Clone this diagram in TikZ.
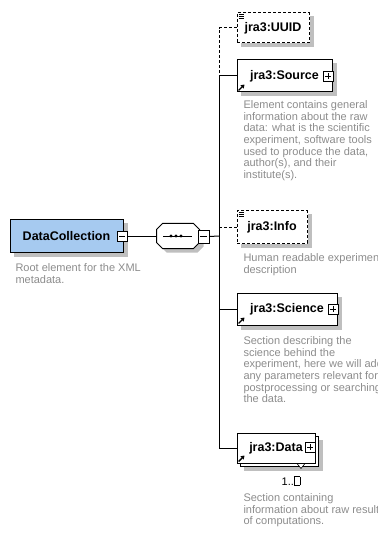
\documentclass[tikz,border=0pt]{standalone}
\usepackage{fontspec}
\setmainfont{Liberation Sans}
\usepackage{tikz}
\usetikzlibrary{shapes,arrows.meta,positioning}

\definecolor{rootblue}{RGB}{166,202,240}
\definecolor{descgray}{RGB}{140,140,140}

\newcommand{\seqoutline}[2]{([shift={(6pt+#1,#2)}]seq.north west) -- ([shift={(-6pt+#1,#2)}]seq.north east)
  -- ([shift={(#1,-6pt+#2)}]seq.north east) -- ([shift={(#1,6pt+#2)}]seq.south east)
  -- ([shift={(-6pt+#1,#2)}]seq.south east) -- ([shift={(6pt+#1,#2)}]seq.south west)
  -- ([shift={(#1,6pt+#2)}]seq.south west) -- ([shift={(#1,-6pt+#2)}]seq.north west) -- cycle}

\tikzset{
  shade gray/.style={fill=gray!50, draw=none},
  elembox/.style={draw, rectangle, fill=white, line width=1pt, minimum height=32pt, inner sep=0pt, font=\fontsize{12.5}{14}\selectfont\bfseries},
  optline/.style={dash pattern=on 3pt off 2pt},
  optelem/.style={elembox, optline},
  pmbox/.style={draw, rectangle, fill=white, line width=0.8pt, minimum size=10pt, inner sep=0pt},
  plusbox/.style={pmbox, path picture={\draw[line width=0.8pt] ([xshift=2pt]path picture bounding box.west) -- ([xshift=-2pt]path picture bounding box.east) ([yshift=-2pt]path picture bounding box.north) -- ([yshift=2pt]path picture bounding box.south);}},
  minusbox/.style={pmbox, path picture={\draw[line width=0.8pt] ([xshift=2pt]path picture bounding box.west) -- ([xshift=-2pt]path picture bounding box.east);}},
  desc/.style={anchor=north west, inner sep=0pt, align=left, text=descgray, font=\fontsize{11}{11.7}\selectfont},
}

\begin{document}
\begin{tikzpicture}[x=1pt, y=-1pt, line width=1pt]
\useasboundingbox (0,0) rectangle (377,534);

\node[elembox, fill=rootblue, minimum width=113pt] (root) at (66.5,236) {DataCollection\hspace{4pt}};
\node[desc] (rootdesc) at (15,263) {Root element for the XML\\metadata.};

\node[minimum width=42pt, minimum height=24pt, inner sep=0pt] (seq) at (178,236) {};
\fill[shade gray, even odd rule] \seqoutline{4pt}{-4pt} \seqoutline{0pt}{0pt};
\draw[fill=white] \seqoutline{0pt}{0pt};
\draw ([xshift=-15pt]seq.center) -- ([xshift=14pt]seq.center);
\foreach \dx in {-7,-2,3}
  \fill ([xshift=\dx pt]seq.center) circle[radius=1.7pt];
\coordinate (busjoin) at (219,236);

\node[optelem, minimum width=72pt, minimum height=30pt] (uuid) at (273,28) {jra3:UUID};
\node[elembox, minimum width=95pt] (source) at (284.5,76) {jra3:Source\hspace{10pt}};
\node[desc] (sourcedesc) at (243,100) {Element contains general\\information about the raw\\data: what is the scientific\\experiment, software tools\\used to produce the data,\\author(s), and their\\institute(s).};

\node[optelem, minimum width=70pt] (info) at (272,227) {jra3:Info};
\node[desc] (infodesc) at (243,253) {Human readable experiment\\description};

\node[elembox, minimum width=100pt] (science) at (287,309) {jra3:Science\hspace{10pt}};
\node[desc] (sciencedesc) at (243,336) {Section describing the\\science behind the\\experiment, here we will add\\any parameters relevant for\\postprocessing or searching\\the data.};

\node[elembox, minimum width=78pt, minimum height=30pt] (databack) at (279,451) {};
\node[elembox, minimum width=78pt, minimum height=30pt] (data) at (276,448) {jra3:Data\hspace{10pt}};
\node[font=\fontsize{11}{12}\selectfont] (dataocc) at (291,481) {1..\setlength\fboxsep{0pt}\setlength\fboxrule{0.7pt}\fbox{\rule{0pt}{8pt}\hspace{5pt}}};
\node[desc] (datadesc) at (243,493) {Section containing\\information about raw result\\of computations.};

\foreach \n in {root,uuid,source,info,science,databack} {
  \fill[shade gray] ([shift={(0pt,-4pt)}]\n.north east) rectangle ([shift={(4pt,-4pt)}]\n.south east);
  \fill[shade gray] ([shift={(4pt,0pt)}]\n.south west) rectangle ([shift={(4pt,-4pt)}]\n.south east);
}

\node[minusbox] (rootminus) at (122,236) {};
\node[minusbox, minimum width=11pt, minimum height=13pt] (seqminus) at (203.5,236.5) {};
\node[plusbox] (sourceplus) at (328,76) {};
\node[plusbox] (scienceplus) at (333,309) {};
\node[plusbox] (dataplus) at (310,447) {};
\draw[line width=0.6pt, fill=white] ([xshift=21pt]data.south) -- ++(8pt,0) -- ++(-4pt,-5pt) -- cycle;

\foreach \n in {uuid,info}
  \foreach \k in {0,2,4}
    \draw[line width=0.7pt] ([shift={(2pt,{-2pt-\k pt})}]\n.north west) -- ++(5pt,0);
\foreach \n in {source,science,data}
  \draw[line width=1.4pt, -{Triangle[length=3.5pt,width=4.5pt]}] ([shift={(2pt,2pt)}]\n.south west) -- ++(6pt,6pt);

\draw (rootminus.east) -- (seq.west);
\draw (seqminus.east) -- (busjoin);
\draw[optline] (uuid.west) -| (busjoin |- source.west);
\draw (source.west) -| (busjoin |- data.west) -- (data.west);
\draw[optline] (info.west) -- (busjoin |- info.west);
\draw (science.west) -- (busjoin |- science.west);
\end{tikzpicture}
\end{document}
